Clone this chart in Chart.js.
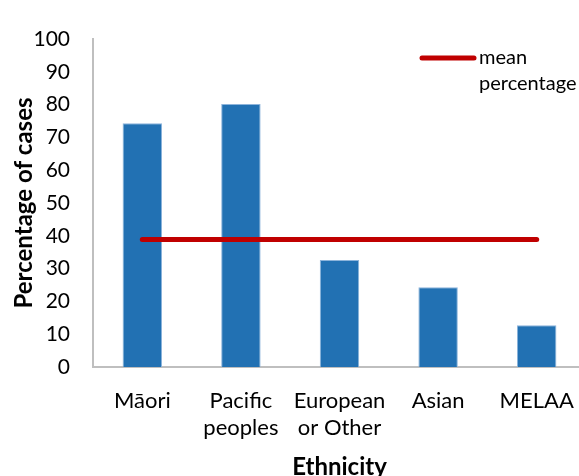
<!DOCTYPE html>
<html>
<head>
<meta charset="utf-8">
<script src="https://cdn.jsdelivr.net/npm/chart.js@4/dist/chart.umd.min.js"></script>
<style>
  html, body { margin: 0; padding: 0; background: #fff; overflow: hidden; }
  #wrap { width: 586px; height: 482px; }
</style>
</head>
<body>
<div id="wrap"><canvas id="c" width="586" height="482"></canvas></div>
<script>
const categories = ['Māori', ['Pacific', 'peoples'], ['European', 'or Other'], 'Asian', 'MELAA'];
const casePercentages = [74.3, 80.2, 32.6, 24.3, 12.7];
const meanPercentage = [38.9, 38.9, 38.9, 38.9, 38.9];
const yTicks = [0, 10, 20, 30, 40, 50, 60, 70, 80, 90, 100];

const FONT = 'Lato, "Open Sans", "Liberation Sans", sans-serif';
const TEXT = '#000000';

// Legend for the mean line, drawn in the top-right corner of the plot
const meanLegend = {
  id: 'meanLegend',
  afterDraw(chart) {
    const ctx = chart.ctx;
    const ds = chart.data.datasets[1];
    ctx.save();
    ctx.strokeStyle = ds.borderColor;
    ctx.lineWidth = 5;
    ctx.lineCap = 'round';
    ctx.beginPath();
    ctx.moveTo(422, 58);
    ctx.lineTo(474, 58);
    ctx.stroke();
    ctx.fillStyle = TEXT;
    ctx.font = '20px ' + FONT;
    ctx.textBaseline = 'middle';
    ctx.textAlign = 'left';
    ctx.fillText(ds.label.split(' ')[0], 479, 58);
    ctx.fillText(ds.label.split(' ')[1], 479, 84);
    ctx.restore();
  }
};

new Chart(document.getElementById('c'), {
  data: {
    labels: categories,
    datasets: [
      {
        type: 'bar',
        label: 'Percentage of cases',
        data: casePercentages,
        backgroundColor: '#2271B3',
        borderColor: '#8DB4DB',
        borderWidth: 1,
        barPercentage: 0.4,
        categoryPercentage: 1.0,
        order: 2
      },
      {
        type: 'line',
        label: 'mean percentage',
        data: meanPercentage,
        borderColor: '#C00000',
        borderWidth: 5,
        borderCapStyle: 'round',
        pointRadius: 0,
        fill: false,
        order: 1
      }
    ]
  },
  options: {
    responsive: false,
    animation: false,
    layout: { padding: { top: 39, left: 0, right: 0, bottom: 0 } },
    plugins: { legend: { display: false }, tooltip: { enabled: false } },
    scales: {
      x: {
        afterFit(scale) { scale.height = 115; scale.paddingLeft = 0; scale.paddingRight = 0; },
        grid: { display: false, drawTicks: false },
        border: { display: true, color: '#BFBFBF', width: 2 },
        ticks: {
          color: TEXT,
          font: { family: FONT, size: 22, lineHeight: 1.25 },
          padding: 20,
          maxRotation: 0,
          autoSkip: false
        },
        title: {
          display: true,
          text: 'Ethnicity',
          color: TEXT,
          font: { family: FONT, size: 24, weight: 'bold' },
          padding: { top: 1, bottom: 0 }
        }
      },
      y: {
        min: 0,
        max: 100,
        afterBuildTicks(scale) { scale.ticks = yTicks.map(v => ({ value: v })); },
        afterFit(scale) { scale.width = 93; },
        grid: { display: false, drawTicks: false },
        border: { display: true, color: '#BFBFBF', width: 2 },
        ticks: {
          color: TEXT,
          font: { family: FONT, size: 21 },
          padding: 23
        },
        title: {
          display: true,
          text: 'Percentage of cases',
          color: TEXT,
          font: { family: FONT, size: 24, weight: 'bold' },
          padding: { top: 10, bottom: 0 }
        }
      }
    }
  },
  plugins: [meanLegend]
});
</script>
</body>
</html>
